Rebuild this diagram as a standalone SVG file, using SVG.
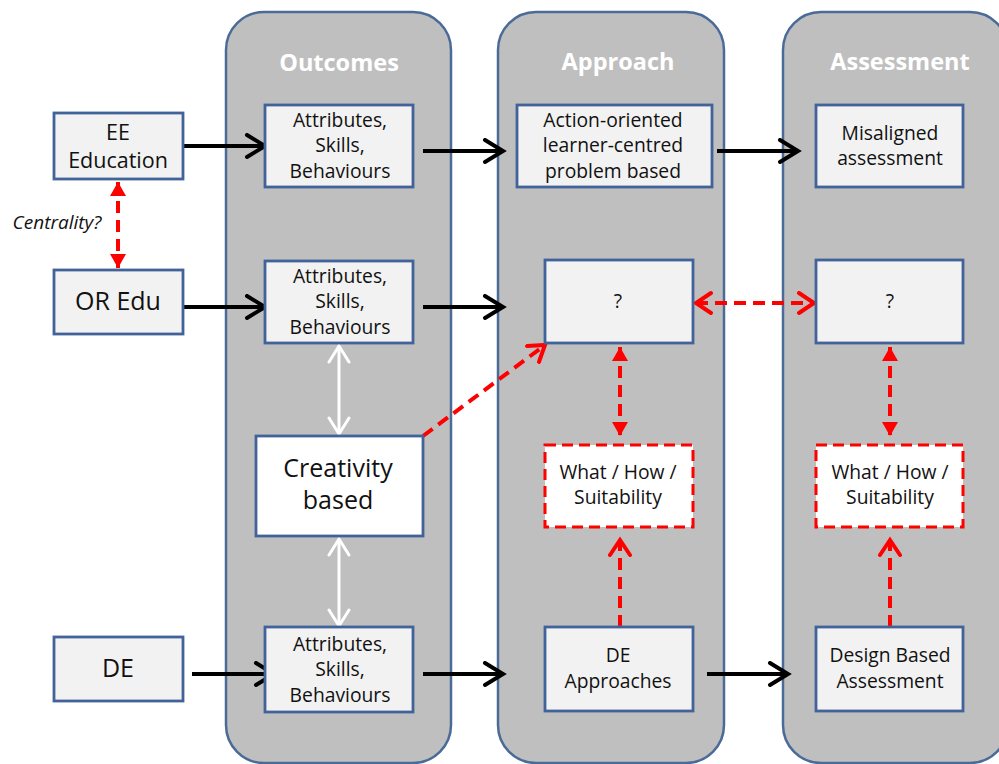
<svg xmlns="http://www.w3.org/2000/svg" width="999" height="764" viewBox="0 0 999 764">
  <style>
    .col { fill: #bfbfbf; stroke: #4a6b98; stroke-width: 2.5; }
    .title { font-family: "Open Sans", "Liberation Sans", sans-serif; font-weight: bold; font-size: 23.5px; fill: #ffffff; text-anchor: middle; }
    .box { fill: #f2f2f2; stroke: #41639a; stroke-width: 2.8; }
    .wbox { fill: #ffffff; stroke: #41639a; stroke-width: 2.8; }
    .rbox { fill: #ffffff; stroke: #ff0000; stroke-width: 3; stroke-dasharray: 11 6; }
    .t { font-family: "Open Sans", "Liberation Sans", sans-serif; font-size: 19.3px; fill: #111111; text-anchor: middle; }
    .tl { font-family: "Open Sans", "Liberation Sans", sans-serif; font-size: 21.5px; fill: #111111; text-anchor: middle; }
    .tx { font-family: "Open Sans", "Liberation Sans", sans-serif; font-size: 25px; fill: #111111; text-anchor: middle; }
    .blk { stroke: #000000; stroke-width: 4; fill: none; }
    .red { stroke: #ff0000; stroke-width: 4; fill: none; stroke-dasharray: 12 7; }
    .wht { stroke: #ffffff; stroke-width: 3; fill: none; }
  </style>
  <defs>
    <marker id="blackHead" markerUnits="userSpaceOnUse" markerWidth="26" markerHeight="28" refX="21" refY="13" orient="auto">
      <path d="M3,2 L21,13 L3,24" fill="none" stroke="#000000" stroke-width="4" stroke-linecap="round" stroke-linejoin="miter"/>
    </marker>
    <marker id="redOpen" markerUnits="userSpaceOnUse" markerWidth="24" markerHeight="26" refX="18" refY="12" orient="auto-start-reverse">
      <path d="M3,2 L18,12 L3,22" fill="none" stroke="#ff0000" stroke-width="4" stroke-linecap="round"/>
    </marker>
    <marker id="redFill" markerUnits="userSpaceOnUse" markerWidth="20" markerHeight="20" refX="14" refY="8" orient="auto-start-reverse">
      <path d="M0,0 L14,8 L0,16 z" fill="#ff0000"/>
    </marker>
    <marker id="whiteHead" markerUnits="userSpaceOnUse" markerWidth="24" markerHeight="26" refX="18" refY="12" orient="auto-start-reverse">
      <path d="M2,2 L18,12 L2,22" fill="none" stroke="#ffffff" stroke-width="3" stroke-linecap="round"/>
    </marker>
  </defs>

  <rect width="999" height="764" fill="#ffffff"/>

  <!-- column panels -->
  <g id="col-outcomes">
    <rect class="col" x="226" y="12" width="225" height="751" rx="38"/>
    <text class="title" x="339" y="71">Outcomes</text>
  </g>
  <g id="col-approach">
    <rect class="col" x="498" y="12" width="226" height="751" rx="38"/>
    <text class="title" x="618" y="70">Approach</text>
  </g>
  <g id="col-assessment">
    <rect class="col" x="783" y="12" width="225" height="751" rx="38"/>
    <text class="title" x="900" y="70">Assessment</text>
  </g>

  <!-- connectors -->
  <g id="connectors">
    <line class="blk" x1="183" y1="146" x2="265" y2="146" marker-end="url(#blackHead)"/>
    <line class="blk" x1="423" y1="151" x2="503" y2="151" marker-end="url(#blackHead)"/>
    <line class="blk" x1="717" y1="151" x2="798" y2="151" marker-end="url(#blackHead)"/>
    <line class="blk" x1="183" y1="307" x2="265" y2="307" marker-end="url(#blackHead)"/>
    <line class="blk" x1="423" y1="307" x2="503" y2="307" marker-end="url(#blackHead)"/>
    <line class="blk" x1="192" y1="674" x2="274" y2="674" marker-end="url(#blackHead)"/>
    <line class="blk" x1="423" y1="674" x2="503" y2="674" marker-end="url(#blackHead)"/>
    <line class="blk" x1="707" y1="674" x2="788" y2="674" marker-end="url(#blackHead)"/>

    <line class="red" x1="118" y1="182" x2="118" y2="268" marker-start="url(#redFill)" marker-end="url(#redFill)"/>
    <line class="red" x1="423" y1="436" x2="545" y2="345" marker-end="url(#redOpen)"/>
    <line class="red" x1="696" y1="303" x2="814" y2="303" marker-start="url(#redOpen)" marker-end="url(#redOpen)"/>
    <line class="red" x1="620" y1="347" x2="620" y2="436" marker-start="url(#redFill)" marker-end="url(#redFill)"/>
    <line class="red" x1="890" y1="347" x2="890" y2="436" marker-start="url(#redFill)" marker-end="url(#redFill)"/>
    <line class="red" x1="620" y1="627" x2="620" y2="540" marker-end="url(#redOpen)"/>
    <line class="red" x1="890" y1="627" x2="890" y2="540" marker-end="url(#redOpen)"/>

    <line class="wht" x1="339" y1="346" x2="339" y2="434" marker-start="url(#whiteHead)" marker-end="url(#whiteHead)"/>
    <line class="wht" x1="339" y1="539" x2="339" y2="626" marker-start="url(#whiteHead)" marker-end="url(#whiteHead)"/>
  </g>

  <text x="57" y="229" font-family="'Open Sans', 'Liberation Sans', sans-serif" font-style="italic" font-size="19" fill="#111111" text-anchor="middle">Centrality?</text>

  <!-- left-hand inputs -->
  <g id="ee-education">
    <rect class="box" x="54" y="113" width="129" height="66"/>
    <text class="tl" x="118" y="140">EE</text>
    <text class="tl" x="118" y="168">Education</text>
  </g>
  <g id="or-edu">
    <rect class="box" x="54" y="270" width="129" height="64"/>
    <text class="tx" x="118" y="310">OR Edu</text>
  </g>
  <g id="de">
    <rect class="box" x="54" y="637" width="129" height="64"/>
    <text class="tx" x="118" y="677">DE</text>
  </g>

  <!-- outcomes -->
  <g id="asb-1">
    <rect class="box" x="265" y="105" width="148" height="82"/>
    <text class="t" x="340" y="127">Attributes,</text>
    <text class="t" x="340" y="152">Skills,</text>
    <text class="t" x="340" y="178">Behaviours</text>
  </g>
  <g id="asb-2">
    <rect class="box" x="265" y="261" width="148" height="82"/>
    <text class="t" x="340" y="283">Attributes,</text>
    <text class="t" x="340" y="308">Skills,</text>
    <text class="t" x="340" y="334">Behaviours</text>
  </g>
  <g id="creativity">
    <rect class="wbox" x="256" y="436" width="167" height="100"/>
    <text class="tx" x="338" y="477">Creativity</text>
    <text class="tx" x="338" y="509">based</text>
  </g>
  <g id="asb-3">
    <rect class="box" x="265" y="627" width="148" height="85"/>
    <text class="t" x="340" y="651">Attributes,</text>
    <text class="t" x="340" y="676">Skills,</text>
    <text class="t" x="340" y="702">Behaviours</text>
  </g>

  <!-- approach -->
  <g id="action-oriented">
    <rect class="box" x="517" y="105" width="195" height="82"/>
    <text class="t" x="613" y="127">Action-oriented</text>
    <text class="t" x="613" y="152">learner-centred</text>
    <text class="t" x="613" y="178">problem based</text>
  </g>
  <g id="approach-q">
    <rect class="box" x="545" y="260" width="148" height="83"/>
    <text class="t" x="618" y="308">?</text>
  </g>
  <g id="approach-what">
    <rect class="rbox" x="545" y="445" width="148" height="82"/>
    <text class="t" x="618" y="479">What / How /</text>
    <text class="t" x="618" y="504">Suitability</text>
  </g>
  <g id="de-approaches">
    <rect class="box" x="545" y="627" width="148" height="84"/>
    <text class="t" x="618" y="662">DE</text>
    <text class="t" x="618" y="688">Approaches</text>
  </g>

  <!-- assessment -->
  <g id="misaligned">
    <rect class="box" x="816" y="105" width="147" height="82"/>
    <text class="t" x="890" y="140">Misaligned</text>
    <text class="t" x="890" y="165">assessment</text>
  </g>
  <g id="assessment-q">
    <rect class="box" x="816" y="260" width="147" height="83"/>
    <text class="t" x="890" y="308">?</text>
  </g>
  <g id="assessment-what">
    <rect class="rbox" x="816" y="445" width="147" height="82"/>
    <text class="t" x="890" y="479">What / How /</text>
    <text class="t" x="890" y="504">Suitability</text>
  </g>
  <g id="design-based">
    <rect class="box" x="816" y="627" width="147" height="84"/>
    <text class="t" x="890" y="662">Design Based</text>
    <text class="t" x="890" y="688">Assessment</text>
  </g>
</svg>
